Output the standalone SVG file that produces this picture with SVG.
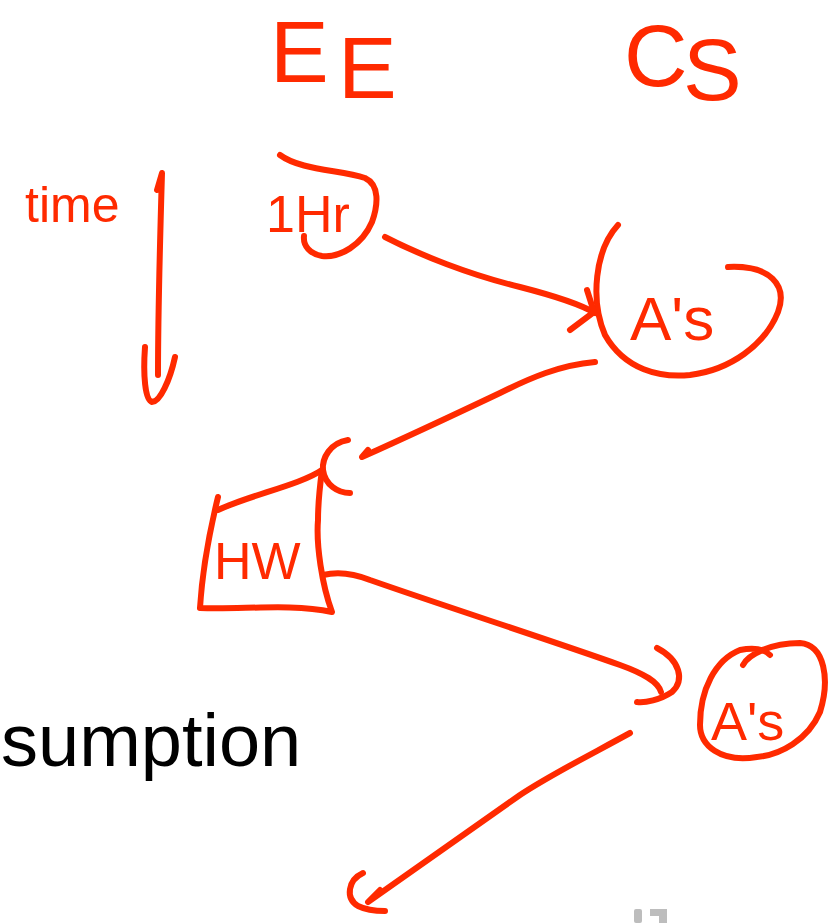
<svg xmlns="http://www.w3.org/2000/svg" width="835" height="923" viewBox="0 0 835 923">
<style>
.ink{fill:none;stroke:#ff2a00;stroke-width:6;stroke-linecap:round;stroke-linejoin:round}
.hw{fill:#ff2a00;font-family:"Liberation Sans",Arial,sans-serif}
.slide{fill:#000;font-family:"Liberation Sans",Arial,sans-serif}
</style>
<rect width="835" height="923" fill="#fff"/>
<text class="slide" x="1" y="766" font-size="74">sumption</text>
<g id="hdr-ee"><text class="hw" font-size="88"><tspan x="270" y="82">E</tspan><tspan x="338" y="98">E</tspan></text></g>
<g id="hdr-cs"><text class="hw" font-size="88"><tspan x="624" y="86">C</tspan><tspan x="683" y="100">S</tspan></text></g>
<g id="time">
<text class="hw" x="25" y="222" font-size="50">time</text>
<path class="ink" d="M157,190 L162,173 C160,240 158,310 158,375"/>
<path class="ink" d="M145,347 C143,375 145,400 152,402 C160,402 170,380 175,357"/>
</g>
<g id="n-1hr">
<path class="ink" d="M280,155 C300,170 340,170 365,178 C380,185 378,205 372,222 C362,245 340,258 322,256 C310,254 303,246 304,236"/>
<text class="hw" x="266" y="232" font-size="52">1Hr</text>
</g>
<g id="n-as1">
<path class="ink" d="M618,225 C595,250 590,300 605,335 C625,370 660,378 690,375 C730,370 765,345 778,312 C788,285 770,265 728,267"/>
<text class="hw" x="630" y="340" font-size="62">A's</text>
</g>
<g id="n-hw">
<path class="ink" d="M218,497 C210,530 202,575 200,608 C240,610 290,603 332,612 C322,585 316,545 318,520 C318,500 320,485 322,470"/>
<path class="ink" d="M218,510 C250,495 300,485 322,470"/>
<text class="hw" x="214" y="579" font-size="52">HW</text>
</g>
<g id="n-as2">
<path class="ink" d="M743,665 C748,655 770,643 800,643 C825,645 830,680 820,712 C808,740 780,755 757,757 C720,763 700,745 700,725 C700,690 715,660 740,650 C755,647 765,650 770,655"/>
<text class="hw" x="711" y="740" font-size="54">A's</text>
</g>
<g id="connectors">
<path class="ink" d="M385,237 C420,255 470,275 520,287 C555,296 580,304 595,313"/>
<path class="ink" d="M587,290 L594,312 L570,330"/>
<path class="ink" d="M595,362 C560,365 530,378 500,393 C460,412 400,440 362,457 L368,450"/>
<path class="ink" d="M348,440 C330,443 322,458 323,470 C325,485 338,493 350,493"/>
<path class="ink" d="M323,575 C335,572 350,572 370,580 C450,608 550,640 620,665 C645,674 658,682 661,692"/>
<path class="ink" d="M657,648 C680,660 685,680 672,692 C660,700 645,703 637,702"/>
<path class="ink" d="M630,733 C590,755 550,775 520,795 C470,830 420,865 368,902 L380,890"/>
<path class="ink" d="M363,873 C348,880 345,898 358,906 C368,911 378,911 385,911"/>
</g>
<g id="corner-icon" fill="#bdbdbd">
<rect x="634" y="909" width="8" height="14" rx="2"/>
<path d="M650,909 L667,909 L667,923 L659,923 L659,916 L650,916 Z"/>
</g>
</svg>
